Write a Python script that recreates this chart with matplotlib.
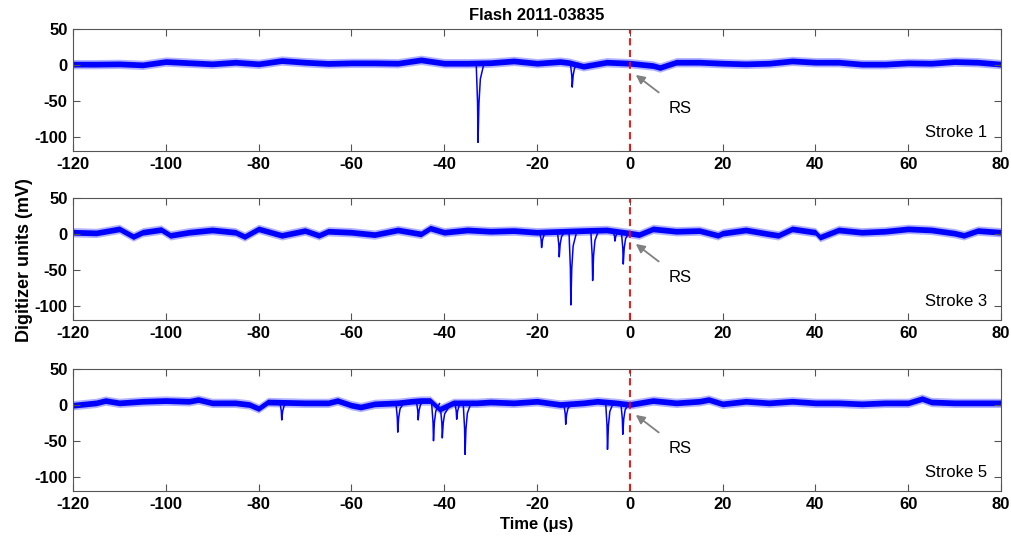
import numpy as np
import matplotlib
matplotlib.use('Agg')
import matplotlib.pyplot as plt

plt.rcParams['font.family'] = ['Liberation Sans', 'DejaVu Sans']
plt.rcParams['axes.unicode_minus'] = False

# DATA
strokes = ['Stroke 1', 'Stroke 3', 'Stroke 5']

# baseline wander of each trace (time in us, level in mV)
base_t1 = [-120, -115, -110, -105, -100, -95, -90, -85, -80, -75, -70, -65, -60, -55, -50,
           -45, -40, -35, -30, -25, -20, -15, -13, -10, -5, 0, 5, 6.5, 10, 15, 20, 25, 30,
           35, 40, 45, 50, 55, 60, 65, 70, 75, 80]
base_v1 = [1, 1, 1.4, 0, 4.6, 3, 1.4, 3.7, 1.4, 6, 3.7, 2, 2.8, 2.8, 2.3,
           7, 2.3, 2.3, 3, 5.5, 2.3, 4.6, 3, -2, 3.7, 2.3, -1, -3.7, 3.7, 3.7, 2.3, 1.4, 2.3,
           5.5, 3.7, 3.7, 1, 1, 2.8, 2.3, 4.6, 3.7, 1]

base_t2 = [-120, -115, -110, -107, -105, -101, -99, -95, -90, -85, -83, -80, -75, -70, -67,
           -65, -60, -55, -50, -45, -43, -40, -35, -30, -25, -20, -10, -5, 0, 2, 5, 10, 15,
           19, 20, 25, 30, 32, 35, 40, 41, 45, 50, 55, 60, 65, 70, 72, 75, 80]
base_v2 = [2.3, 1.4, 7, -3.7, 2.3, 6, -2, 2.3, 5.5, 2.3, -3.7, 7, -2, 4.6, -2,
           3.7, 2.3, -1, 5.5, 0, 8, 2.3, 5.5, 3.7, 4.6, 2.3, 4.6, 5.5, 1, -1, 7, 3.7, 4.6,
           -2, 1, 5.5, 0, -2, 7, 2.3, -4.6, 5.5, 2.3, 3.7, 7, 5.5, 1, -2, 4.6, 2.3]

base_t3 = [-120, -115, -113, -110, -105, -100, -95, -93, -90, -85, -82, -80, -78, -70, -65,
           -63, -60, -58, -55, -50, -47, -45, -43, -41, -38, -33, -30, -25, -20, -15, -10,
           -7, -3, 0, 5, 10, 15, 17, 20, 25, 30, 35, 40, 45, 50, 55, 60, 63, 65, 70, 75, 80]
base_v3 = [-0.5, 2.8, 6, 2.8, 5, 6, 5, 7.4, 2.8, 2.8, 0.5, -5, 4, 2.8, 2.8,
           6, -0.5, -3, 1.4, 2.8, 5, 6, 6, -6, 2.8, 2.8, 4, 2.8, 5, 0.5, 2.8,
           5, 2.8, 0.5, 6, 2.8, 5, 7.4, 1.4, 5, 2.8, 5, 2.8, 2.8, 1.4, 2.8, 2.8, 8.7, 4, 2.8, 2.8, 2.8]

# negative pulses: time (us) and minimum (mV)
pulse_t1 = [-32.7, -12.4]
pulse_v1 = [-108, -31]
pulse_t2 = [-19.0, -15.2, -12.7, -8.0, -3.2, -1.4]
pulse_v2 = [-19, -32, -99, -65, -10, -42]
pulse_t3 = [-75.0, -50.0, -45.6, -42.3, -40.4, -37.3, -35.5, -13.8, -4.8, -1.5]
pulse_v3 = [-21, -38, -21, -50, -46, -20, -69, -27, -62, -41]

xticks = [-120, -100, -80, -60, -40, -20, 0, 20, 40, 60, 80]
yticks = [-100, -50, 0, 50]

traces = [(base_t1, base_v1, pulse_t1, pulse_v1),
          (base_t2, base_v2, pulse_t2, pulse_v2),
          (base_t3, base_v3, pulse_t3, pulse_v3)]

fig = plt.figure(figsize=(10.12, 5.39), dpi=100)
bottoms = [0.7199, 0.4063, 0.0891]

for k, (bt, bv, pt, pv) in enumerate(traces):
    ax = fig.add_axes([0.0721, bottoms[k], 0.917, 0.2263])
    bt = np.array(bt, dtype=float)
    bv = np.array(bv, dtype=float)
    # noisy band around the baseline
    ax.fill_between(bt, bv - 6.5, bv + 6.5, color='#0000ff', alpha=0.3, lw=0)
    ax.fill_between(bt, bv - 4, bv + 4, color='#0000ff', lw=0)
    # pulses
    for t, v in zip(pt, pv):
        b = np.interp(t, bt, bv)
        ax.plot([t - 0.4, t - 0.1, t, t + 0.2, t + 0.5, t + 1.3],
                [b, b + 0.5 * (v - b), v, b + 0.5 * (v - b), b + 0.2 * (v - b), b],
                color='#0000ff', lw=1.1)
    ax.axvline(0, color='#ff0000', ls=(0, (4, 2.5)), lw=1.3)
    ax.annotate('RS', xy=(1.3, -14), xytext=(10.8, -61), ha='center', va='center',
                fontsize=12, arrowprops=dict(arrowstyle='-|>', color='#808080', lw=1.3,
                                             shrinkA=7, shrinkB=0, mutation_scale=13))
    ax.text(77, -94, strokes[k], ha='right', va='center', fontsize=12)
    ax.set_xlim(-120, 80)
    ax.set_ylim(-120, 50)
    ax.set_xticks(xticks)
    ax.set_yticks(yticks)
    ax.tick_params(direction='in', top=True, right=True, length=5, width=0.8,
                   labelsize=12, pad=4, color='#555555')
    for lab in ax.get_xticklabels() + ax.get_yticklabels():
        lab.set_fontweight('bold')
    for s in ax.spines.values():
        s.set_linewidth(0.8)
        s.set_color('#555555')

fig.text(0.5307, 0.972, 'Flash 2011-03835', ha='center', va='center',
         fontsize=12, fontweight='bold')
fig.text(0.5307, 0.026, 'Time (\u03bcs)', ha='center', va='center',
         fontsize=12, fontweight='bold')
fig.text(0.024, 0.5176, 'Digitizer units (mV)', ha='center', va='center',
         rotation=90, fontsize=13, fontweight='bold')

fig.savefig('out.png', dpi=100)
